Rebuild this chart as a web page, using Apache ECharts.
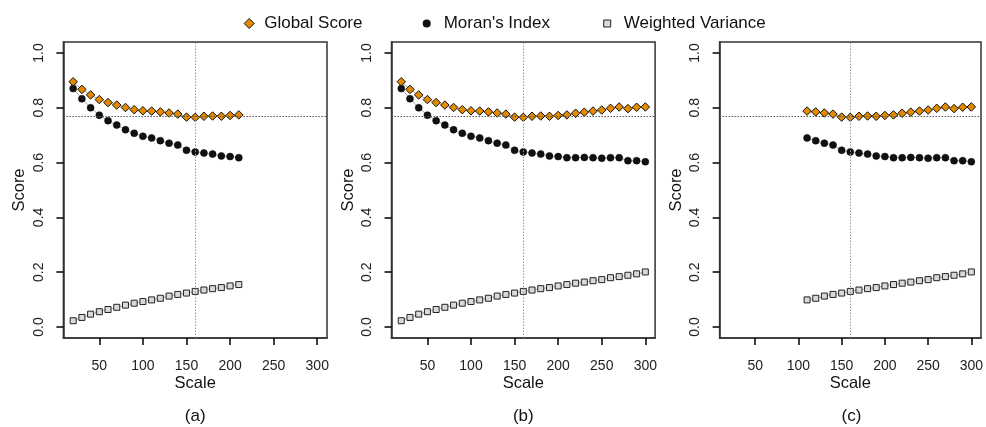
<!DOCTYPE html>
<html>
<head>
<meta charset="utf-8">
<script src="https://cdn.jsdelivr.net/npm/echarts@6/dist/echarts.min.js"></script>
<style>
html, body { margin: 0; padding: 0; background: #fff; }
#chart { width: 986px; height: 427px; }
</style>
</head>
<body>
<div id="chart"></div>
<script>
// scale values shared by all three panels
var scales = [20, 30, 40, 50, 60, 70, 80, 90, 100, 110, 120, 130, 140, 150, 160,
  170, 180, 190, 200, 210, 220, 230, 240, 250, 260, 270, 280, 290, 300]
var globalScore = [0.895, 0.867, 0.847, 0.830, 0.819, 0.810, 0.801, 0.793, 0.789, 0.788,
  0.785, 0.781, 0.777, 0.766, 0.765, 0.769, 0.770, 0.769, 0.772, 0.774,
  0.780, 0.784, 0.788, 0.792, 0.798, 0.803, 0.797, 0.802, 0.803]
var moransIndex = [0.870, 0.833, 0.800, 0.773, 0.753, 0.737, 0.720, 0.707, 0.696, 0.690,
  0.680, 0.671, 0.664, 0.645, 0.639, 0.635, 0.631, 0.624, 0.622, 0.618,
  0.618, 0.619, 0.618, 0.616, 0.618, 0.618, 0.607, 0.607, 0.603]
var weightedVariance = [0.023, 0.035, 0.047, 0.056, 0.064, 0.072, 0.080, 0.087, 0.093, 0.099,
  0.105, 0.113, 0.119, 0.124, 0.130, 0.135, 0.140, 0.144, 0.150, 0.155,
  0.160, 0.164, 0.169, 0.173, 0.180, 0.184, 0.189, 0.194, 0.201]

var panelLabels = ['(a)', '(b)', '(c)']
var panelRanges = [[20, 210], [20, 300], [110, 300]]
var xTicks = [50, 100, 150, 200, 250, 300]
var yTicks = [0, 0.2, 0.4, 0.6, 0.8, 1.0]
var bestScale = 160
var bestScore = 0.765

var font = '"Liberation Sans", Arial, sans-serif'
var orange = '#E38A00'
var boxColor = '#333'

function pts (values, range) {
  var out = []
  scales.forEach(function (s, k) {
    if (s >= range[0] && s <= range[1]) out.push([s, values[k]])
  })
  return out
}

var grids = []
var xAxes = []
var yAxes = []
var series = []
var graphics = []

panelLabels.forEach(function (label, i) {
  var left = 63.4 + i * 328.1
  grids.push({
    left: left, top: 42, width: 263.6, height: 296,
    show: true, borderColor: boxColor, borderWidth: 1.5
  })
  xAxes.push({
    gridIndex: i, type: 'value', min: 8.8, max: 311.2,
    name: 'Scale', nameLocation: 'middle', nameGap: 37, nameMoveOverlap: false,
    nameTextStyle: { fontSize: 16.5, color: '#111', fontFamily: font },
    axisLine: { show: true, onZero: false, lineStyle: { color: boxColor, width: 1.5 } },
    splitLine: { show: false },
    axisTick: { show: true, length: 7, customValues: xTicks, lineStyle: { color: '#000', width: 1.5 } },
    axisLabel: { customValues: xTicks, margin: 21, fontSize: 14, color: '#222', fontFamily: font }
  })
  yAxes.push({
    gridIndex: i, type: 'value', min: -0.04, max: 1.04,
    name: 'Score', nameLocation: 'middle', nameGap: 35, nameMoveOverlap: false,
    nameTextStyle: { fontSize: 16.5, color: '#111', fontFamily: font },
    axisLine: { show: true, onZero: false, lineStyle: { color: boxColor, width: 1.5 } },
    splitLine: { show: false },
    axisTick: { show: true, length: 7, customValues: yTicks, lineStyle: { color: '#000', width: 1.5 } },
    axisLabel: {
      customValues: yTicks, rotate: 90, margin: 17, fontSize: 14, color: '#222', fontFamily: font,
      formatter: function (v) { return v.toFixed(1) }
    }
  })
  var range = panelRanges[i]
  var lineStyle = { color: '#aaa', width: 1 }
  series.push({
    name: 'Weighted Variance', type: 'line', xAxisIndex: i, yAxisIndex: i,
    data: pts(weightedVariance, range), symbol: 'rect', symbolSize: 6, showSymbol: true,
    lineStyle: lineStyle, itemStyle: { color: '#d9d9d9', borderColor: '#222', borderWidth: 1 }
  })
  series.push({
    name: "Moran's Index", type: 'line', xAxisIndex: i, yAxisIndex: i,
    data: pts(moransIndex, range), symbol: 'circle', symbolSize: 7, showSymbol: true,
    lineStyle: lineStyle, itemStyle: { color: '#111', borderColor: '#000', borderWidth: 0.5 }
  })
  series.push({
    name: 'Global Score', type: 'line', xAxisIndex: i, yAxisIndex: i,
    data: pts(globalScore, range), symbol: 'diamond', symbolSize: 8.5, showSymbol: true,
    lineStyle: lineStyle, itemStyle: { color: orange, borderColor: '#111', borderWidth: 1 }
  })
  // reference lines at the chosen scale and its score
  series.push({
    type: 'line', xAxisIndex: i, yAxisIndex: i, data: [], z: 10,
    markLine: {
      silent: true, symbol: 'none', label: { show: false }, animation: false,
      data: [
        { xAxis: bestScale, lineStyle: { color: '#999', type: [1.5, 1.5], width: 1 } },
        { yAxis: bestScore, lineStyle: { color: '#555', type: [1.5, 1.5], width: 1 } }
      ]
    }
  })
  graphics.push({
    type: 'text', x: left + 131.8, y: 416.5,
    style: { text: label, align: 'center', verticalAlign: 'middle', fontSize: 17, fill: '#111', fontFamily: font }
  })
})

var legendText = { fontSize: 17, color: '#111', fontFamily: font }
var legends = [
  { left: 238.7, top: 10, itemWidth: 10, itemHeight: 10,
    textStyle: Object.assign({ padding: [0, 0, 0, 5] }, legendText),
    data: [{ name: 'Global Score', icon: 'diamond', itemStyle: { color: orange, borderColor: '#111', borderWidth: 1 } }] },
  { left: 417.7, top: 10, itemWidth: 8, itemHeight: 8,
    textStyle: Object.assign({ padding: [0, 0, 0, 8] }, legendText),
    data: [{ name: "Moran's Index", icon: 'circle', itemStyle: { color: '#111', borderWidth: 0 } }] },
  { left: 598.2, top: 10, itemWidth: 7, itemHeight: 7,
    textStyle: Object.assign({ padding: [0, 0, 0, 8] }, legendText),
    data: [{ name: 'Weighted Variance', icon: 'rect', itemStyle: { color: '#d9d9d9', borderColor: '#222', borderWidth: 1 } }] }
]

var chart = echarts.init(document.getElementById('chart'))
chart.setOption({
  animation: false,
  backgroundColor: '#fff',
  legend: legends,
  grid: grids,
  xAxis: xAxes,
  yAxis: yAxes,
  series: series,
  graphic: graphics
})
</script>
</body>
</html>
